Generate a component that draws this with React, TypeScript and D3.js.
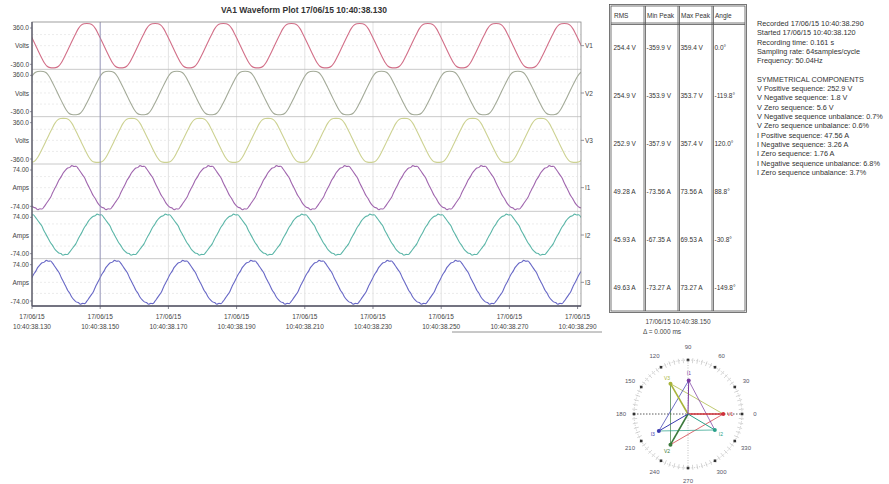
import React from "react";
import * as d3 from "d3";

// channel info
const channels = ["V1", "V2", "V3", "I1", "I2", "I3"];
const units = ["Volts", "Volts", "Volts", "Amps", "Amps", "Amps"];
const axisMax = [360, 360, 360, 74, 74, 74];
const axisTopLabels = ["360.0", "360.0", "360.0", "74.00", "74.00", "74.00"];
const axisBottomLabels = ["-360.0", "-360.0", "-360.0", "-74.00", "-74.00", "-74.00"];
const lineColors = ["#d26f88", "#a3aa98", "#cdd292", "#a066ae", "#5cb6a8", "#6868c6"];
const phasorColors = ["#d0303a", "#3c7a3c", "#a8b43a", "#7a3aa0", "#2aa08a", "#3a3ab0"];

const maxPeaks = [359.4, 353.7, 357.4, 73.56, 69.53, 73.27];
const minPeaks = [-359.9, -353.9, -357.9, -73.56, -67.35, -73.27];
const peakTimes = [16.1, 2.5, 9.2, 11.7, 19.1, 4.2];
const periodMs = 20;

// one cycle of each waveform shape (per unit), starting at the positive peak
const voltageCycle = [
  1.0, 0.99, 0.93, 0.77, 0.53, 0.27, 0.0, -0.27, -0.53, -0.77, -0.93, -0.99,
  -1.0, -0.99, -0.93, -0.77, -0.53, -0.27, 0.0, 0.27, 0.53, 0.77, 0.93, 0.99,
];
const currentCycle = [
  1.0, 0.96, 0.97, 0.86, 0.72, 0.58, 0.44, 0.22, 0.03, -0.16, -0.36, -0.5, -0.68, -0.8, -0.89, -0.92,
  -1.0, -0.96, -0.97, -0.86, -0.72, -0.58, -0.44, -0.22, -0.03, 0.16, 0.36, 0.5, 0.68, 0.8, 0.89, 0.92,
];
const shapes = [voltageCycle, voltageCycle, voltageCycle, currentCycle, currentCycle, currentCycle];

// x axis
const windowMs = 161;
const tickTimes = [0, 20, 40, 60, 80, 100, 120, 140, 160];
const tickDates = ["17/06/15", "17/06/15", "17/06/15", "17/06/15", "17/06/15", "17/06/15", "17/06/15", "17/06/15", "17/06/15"];
const tickClocks = ["10:40:38.130", "10:40:38.150", "10:40:38.170", "10:40:38.190", "10:40:38.210", "10:40:38.230", "10:40:38.250", "10:40:38.270", "10:40:38.290"];
const cursorMs = 20;

// table
const tableHeaders = ["RMS", "Min Peak", "Max Peak", "Angle"];
const rmsLabels = ["254.4 V", "254.9 V", "252.9 V", "49.28 A", "45.93 A", "49.63 A"];
const minLabels = ["-359.9 V", "-353.9 V", "-357.9 V", "-73.56 A", "-67.35 A", "-73.27 A"];
const maxLabels = ["359.4 V", "353.7 V", "357.4 V", "73.56 A", "69.53 A", "73.27 A"];
const angleLabels = ["0.0°", "-119.8°", "120.0°", "88.8°", "-30.8°", "-149.8°"];

// phasors
const rmsValues = [254.4, 254.9, 252.9, 49.28, 45.93, 49.63];
const angleValues = [0, -119.8, 120, 88.8, -30.8, -149.8];
const dialLabels = [0, 30, 60, 90, 120, 150, 180, 210, 240, 270, 300, 330];

const infoLines = [
  "Recorded  17/06/15  10:40:38.290",
  "Started    17/06/15  10:40:38.120",
  "Recording time: 0.161 s",
  "Sampling rate: 64samples/cycle",
  "Frequency: 50.04Hz",
  "",
  "SYMMETRICAL COMPONENTS",
  "V Positive sequence: 252.9 V",
  "V Negative sequence: 1.8 V",
  "V Zero sequence: 5.6 V",
  "V Negative sequence unbalance: 0.7%",
  "V Zero sequence unbalance: 0.6%",
  "I Positive sequence: 47.56 A",
  "I Negative sequence: 3.26 A",
  "I Zero sequence: 1.76 A",
  "I Negative sequence unbalance: 6.8%",
  "I Zero sequence unbalance: 3.7%",
];

const FONT = "Liberation Sans, Arial, sans-serif";

const App = () => {
  const plotLeft = 32;
  const plotRight = 581;
  const plotTop = 22;
  const plotBottom = 306;
  const stripH = (plotBottom - plotTop) / channels.length;

  const x = d3.scaleLinear().domain([0, windowMs]).range([plotLeft, plotRight]);

  // build each channel's points by laying the measured cycle along the time window
  const series = channels.map((c, i) => {
    const shape = shapes[i];
    const step = periodMs / shape.length;
    const pts: [number, number][] = [];
    for (let m = -1; m <= Math.ceil(windowMs / periodMs) + 1; m++) {
      shape.forEach((v, k) => {
        const t = peakTimes[i] + m * periodMs + k * step;
        if (t >= -step && t <= windowMs + step) {
          pts.push([t, v >= 0 ? v * maxPeaks[i] : -v * minPeaks[i]]);
        }
      });
    }
    pts.sort((a, b) => a[0] - b[0]);
    return pts;
  });

  // phasor dial
  const cx = 688;
  const cy = 414;
  const dialR = 54;
  const rV = d3.scaleLinear().domain([0, 260]).range([0, 36]);
  const rI = d3.scaleLinear().domain([0, 50]).range([0, 34]);
  const tip = (i: number) => {
    const r = i < 3 ? rV(rmsValues[i]) : rI(rmsValues[i]);
    const a = (angleValues[i] * Math.PI) / 180;
    return [cx + r * Math.cos(a), cy - r * Math.sin(a)];
  };

  // table geometry
  const tLeft = 611;
  const tTop = 6;
  const tBottom = 311;
  const colX = [611, 644, 678, 712, 745];
  const headerBottom = 23;
  const rowH = (tBottom - headerBottom) / channels.length;

  return (
    <svg width={889} height={484} style={{ position: "absolute", left: 0, top: 0, background: "#fff" }} fontFamily={FONT}>
      <defs>
        <clipPath id="plotClip">
          <rect x={plotLeft} y={plotTop} width={plotRight - plotLeft} height={plotBottom - plotTop} />
        </clipPath>
      </defs>

      <text x={304} y={13} fontSize={8.5} fontWeight="bold" textAnchor="middle" fill="#333">
        VA1 Waveform Plot 17/06/15 10:40:38.130
      </text>

      {/* vertical grid */}
      {tickTimes.map((t) => (
        <line key={t} x1={x(t)} x2={x(t)} y1={plotTop} y2={plotBottom} stroke="#dcdcdc" strokeWidth={0.8} />
      ))}

      {channels.map((c, i) => {
        const top = plotTop + i * stripH;
        const y = d3.scaleLinear().domain([-axisMax[i], axisMax[i]]).range([top + stripH - 1.5, top + 1.5]);
        const line = d3.line<[number, number]>().x((d) => x(d[0])).y((d) => y(d[1])).curve(d3.curveMonotoneX);
        return (
          <g key={c}>
            {[-axisMax[i] / 2, 0, axisMax[i] / 2].map((v) => (
              <line key={v} x1={plotLeft} x2={plotRight} y1={y(v)} y2={y(v)} stroke="#e4e4e4" strokeWidth={0.7} strokeDasharray="2,2" />
            ))}
            {i > 0 && <line x1={plotLeft} x2={plotRight} y1={top} y2={top} stroke="#bcbcbc" strokeWidth={0.8} />}
            <path d={line(series[i]) || ""} fill="none" stroke={lineColors[i]} strokeWidth={1.1} clipPath="url(#plotClip)" />
            <text x={plotLeft - 3} y={top + 8} fontSize={6.5} textAnchor="end" fill="#444">{axisTopLabels[i]}</text>
            <text x={plotLeft - 3} y={top + stripH / 2 + 2.5} fontSize={6.5} textAnchor="end" fill="#444">{units[i]}</text>
            <text x={plotLeft - 3} y={top + stripH - 2.5} fontSize={6.5} textAnchor="end" fill="#444">{axisBottomLabels[i]}</text>
            <line x1={plotLeft - 2} x2={plotLeft} y1={top + 6} y2={top + 6} stroke="#667" strokeWidth={0.7} />
            <line x1={plotLeft - 2} x2={plotLeft} y1={top + stripH - 5} y2={top + stripH - 5} stroke="#667" strokeWidth={0.7} />
            <line x1={plotRight} x2={plotRight + 3} y1={top + stripH / 2} y2={top + stripH / 2} stroke="#667" strokeWidth={0.7} />
            <text x={plotRight + 4} y={top + stripH / 2 + 2.5} fontSize={6.5} fill="#444">{c}</text>
          </g>
        );
      })}

      {/* cursor */}
      <line x1={x(cursorMs)} x2={x(cursorMs)} y1={plotTop} y2={plotBottom} stroke="#8a8ab8" strokeWidth={0.8} />

      {/* frame and axes */}
      <rect x={plotLeft} y={plotTop} width={plotRight - plotLeft} height={plotBottom - plotTop} fill="none" stroke="#888" strokeWidth={0.8} />
      <line x1={plotLeft} x2={plotLeft} y1={plotTop} y2={plotBottom} stroke="#556" strokeWidth={1.2} />
      <line x1={plotLeft} x2={plotRight} y1={plotBottom} y2={plotBottom} stroke="#556" strokeWidth={1.4} />
      {tickTimes.map((t, i) => (
        <g key={t}>
          <line x1={x(t)} x2={x(t)} y1={plotBottom} y2={plotBottom + 3} stroke="#556" strokeWidth={0.7} />
          <text x={x(t)} y={plotBottom + 13} fontSize={6.5} textAnchor="middle" fill="#444">{tickDates[i]}</text>
          <text x={x(t)} y={plotBottom + 23} fontSize={6.5} textAnchor="middle" fill="#444">{tickClocks[i]}</text>
        </g>
      ))}
      <line x1={452} x2={602} y1={332} y2={332} stroke="#777" strokeWidth={0.8} />

      {/* table */}
      <rect x={tLeft - 1.5} y={tTop - 1.5} width={colX[4] - tLeft + 3} height={tBottom - tTop + 3} fill="none" stroke="#555" strokeWidth={0.8} />
      <rect x={tLeft} y={tTop} width={colX[4] - tLeft} height={tBottom - tTop} fill="none" stroke="#555" strokeWidth={0.8} />
      <line x1={tLeft} x2={colX[4]} y1={headerBottom} y2={headerBottom} stroke="#555" strokeWidth={0.8} />
      <line x1={tLeft} x2={colX[4]} y1={headerBottom + 1.5} y2={headerBottom + 1.5} stroke="#555" strokeWidth={0.8} />
      {colX.slice(1, 4).map((cx0) => (
        <g key={cx0}>
          <line x1={cx0} x2={cx0} y1={tTop} y2={tBottom} stroke="#555" strokeWidth={0.8} />
          <line x1={cx0 + 1.5} x2={cx0 + 1.5} y1={tTop} y2={tBottom} stroke="#555" strokeWidth={0.8} />
        </g>
      ))}
      {tableHeaders.map((h, j) => (
        <text key={h} x={colX[j] + 3} y={tTop + 12} fontSize={6.5} fill="#333">{h}</text>
      ))}
      {channels.map((c, i) => {
        const yy = headerBottom + rowH * (i + 0.5) + 2.5;
        return [rmsLabels[i], minLabels[i], maxLabels[i], angleLabels[i]].map((v, j) => (
          <text key={c + j} x={colX[j] + 2.5} y={yy} fontSize={6.5} fill="#333">{v}</text>
        ));
      })}
      <text x={678} y={324} fontSize={6.5} textAnchor="middle" fill="#444">17/06/15  10:40:38.150</text>
      <text x={662} y={334} fontSize={6.5} textAnchor="middle" fill="#444">Δ = 0.000 ms</text>

      {/* info text */}
      {infoLines.map((l, i) => (
        <text key={i} x={757} y={26 + i * 9.3} fontSize={7.3} fill="#333">{l}</text>
      ))}

      {/* phasor dial */}
      <circle cx={cx} cy={cy} r={dialR} fill="none" stroke="#aaa" strokeWidth={0.7} strokeDasharray="1,1.5" />
      {d3.range(0, 360, 5).map((a) => {
        const r = (a * Math.PI) / 180;
        const len = a % 30 === 0 ? 0 : 3;
        return (
          <line key={a} x1={cx + (dialR - len) * Math.cos(r)} y1={cy - (dialR - len) * Math.sin(r)}
            x2={cx + (dialR + 2) * Math.cos(r)} y2={cy - (dialR + 2) * Math.sin(r)} stroke="#bbb" strokeWidth={0.6} />
        );
      })}
      {dialLabels.map((a) => {
        const r = (a * Math.PI) / 180;
        return (
          <g key={a}>
            <rect x={cx + dialR * Math.cos(r) - 1.3} y={cy - dialR * Math.sin(r) - 1.3} width={2.6} height={2.6} fill="#333" />
            <text x={cx + 67 * Math.cos(r)} y={cy - 67 * Math.sin(r) + 2} fontSize={6} textAnchor="middle" fill="#556">{a}</text>
          </g>
        );
      })}
      <line x1={cx - dialR} x2={cx + dialR} y1={cy} y2={cy} stroke="#333" strokeWidth={0.8} strokeDasharray="1.5,1.5" />
      <line x1={cx} x2={cx} y1={cy - dialR} y2={cy + dialR} stroke="#999" strokeWidth={0.6} strokeDasharray="1,1.5" />
      {/* triangles between tips */}
      {[[0, 1, 2], [3, 4, 5]].map((tri) =>
        tri.map((a, k) => {
          const b = tri[(k + 1) % 3];
          const p = tip(a);
          const q = tip(b);
          return <line key={`${a}-${b}`} x1={p[0]} y1={p[1]} x2={q[0]} y2={q[1]} stroke={phasorColors[a]} strokeWidth={0.9} opacity={0.8} />;
        })
      )}
      {channels.map((c, i) => {
        const p = tip(i);
        const a = (angleValues[i] * Math.PI) / 180;
        return (
          <g key={c}>
            <line x1={cx} y1={cy} x2={p[0]} y2={p[1]} stroke={phasorColors[i]} strokeWidth={i < 3 ? 1.6 : 1} />
            <circle cx={p[0]} cy={p[1]} r={2} fill={phasorColors[i]} />
            <text x={p[0] + 7 * Math.cos(a)} y={p[1] - 7 * Math.sin(a) + 2} fontSize={5} textAnchor="middle" fill={phasorColors[i]}>{c}</text>
          </g>
        );
      })}
    </svg>
  );
};

export default App;
